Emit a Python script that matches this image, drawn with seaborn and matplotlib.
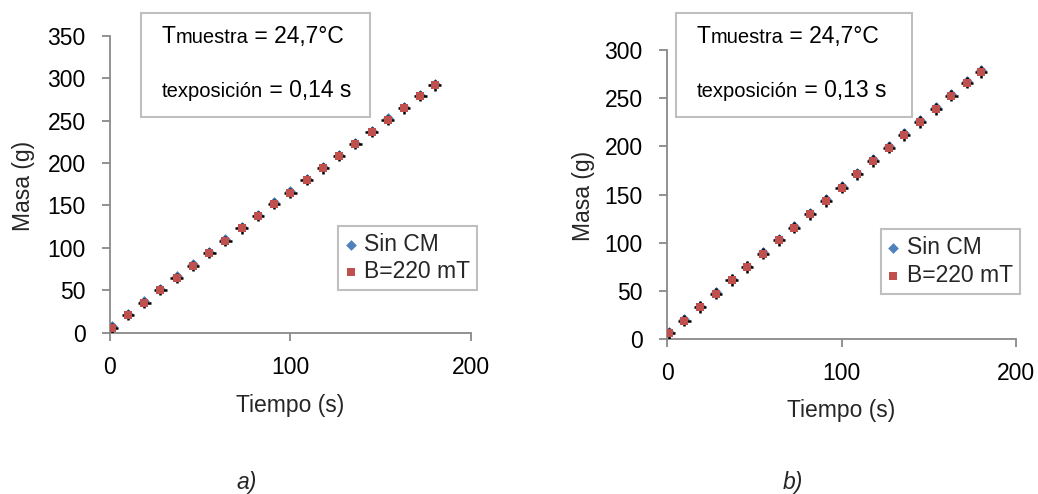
import matplotlib
matplotlib.use('Agg')
import numpy as np
import pandas as pd
import matplotlib.pyplot as plt
import seaborn as sns
from matplotlib.patches import Rectangle
from matplotlib.offsetbox import TextArea, HPacker, VPacker, AnchoredOffsetbox

# datos
tiempo = [1, 10, 19, 28, 37, 46, 55, 64, 73, 82, 91, 100, 109, 118, 127, 136, 145, 154, 163, 172, 180]

# a) t exposicion = 0,14 s
masa_a_sin = [7.5, 22.5, 37.0, 51.5, 66.5, 80.5, 95.0, 110.0, 124.5, 139.0, 153.5,
              167.0, 181.5, 195.5, 209.5, 224.0, 238.0, 252.5, 266.0, 280.5, 293.0]
masa_a_cm = [5.9, 20.8, 35.3, 49.9, 64.8, 79.0, 93.5, 108.4, 122.9, 137.1, 151.6,
             165.0, 179.9, 193.6, 207.8, 222.3, 236.1, 250.6, 264.3, 278.5, 291.4]

# b) t exposicion = 0,13 s
masa_b_sin = [7.5, 21.0, 35.0, 49.0, 63.0, 76.5, 90.5, 104.0, 117.5, 131.0, 145.0,
              159.0, 172.5, 186.5, 200.5, 213.5, 227.0, 240.5, 254.0, 267.5, 279.0]
masa_b_cm = [6.2, 19.4, 33.5, 47.3, 61.2, 75.0, 88.8, 102.6, 115.8, 129.6, 143.4,
             157.2, 171.0, 184.8, 198.8, 211.9, 225.4, 238.9, 252.7, 266.2, 277.2]

err_t = 3.5
err_m = 6.0

AZUL = '#4F81BD'
ROJO = '#C0504D'
GRIS = '#898989'
FS = 16.5
FS_SUB = 14.5

sns.set_theme(style='white')
plt.rcParams['font.family'] = ['Liberation Sans', 'DejaVu Sans']
plt.rcParams['font.size'] = FS

W, H = 1038, 494
fig = plt.figure(figsize=(W / 100, H / 100), dpi=100)
ax_a = fig.add_axes([110 / W, 1 - 332.7 / H, 360.7 / W, 297 / H])
ax_b = fig.add_axes([667 / W, 1 - 339.3 / H, 349 / W, 289.3 / H])


def panel(ax, masa_sin, masa_cm, ymax, texp, caja_x, texto_x, leyenda_xy):
    df = pd.DataFrame({'t': tiempo, 'sin': masa_sin, 'cm': masa_cm})
    sns.scatterplot(data=df, x='t', y='sin', marker='D', color=AZUL, s=30,
                    linewidth=0, label='Sin CM', ax=ax, zorder=3)
    ax.errorbar(df['t'], df['cm'], xerr=err_t, yerr=err_m, fmt='none',
                ecolor='black', elinewidth=1.8, capsize=0, zorder=4)
    sns.scatterplot(data=df, x='t', y='cm', marker='s', color=ROJO, s=40,
                    linewidth=0, label='B=220 mT', ax=ax, zorder=5)

    ax.set_xlim(0, 200)
    ax.set_ylim(0, ymax)
    ax.set_xticks([0, 100, 200])
    ax.set_yticks(np.arange(0, ymax + 1, 50))
    sns.despine(ax=ax)
    for s in ['left', 'bottom']:
        ax.spines[s].set_color(GRIS)
        ax.spines[s].set_linewidth(1.3)
    ax.tick_params(bottom=True, left=True, direction='out', length=5.5,
                   width=1.3, color=GRIS, labelsize=FS, labelcolor='black')
    ax.tick_params(axis='x', pad=11)
    ax.tick_params(axis='y', pad=12)

    ax.set_xlabel('Tiempo (s)', fontsize=FS, va='center')
    ax.set_ylabel('Masa (g)', fontsize=FS, va='center', ha='center')
    ax.xaxis.set_label_coords(0.5, -0.245)
    ax.yaxis.set_label_coords(-0.24, 0.495)

    ax.legend(loc='upper left', bbox_to_anchor=leyenda_xy, bbox_transform=fig.transFigure,
              frameon=True, fancybox=False, edgecolor='#BFBFBF', framealpha=1,
              fontsize=FS, handlelength=0.5, handletextpad=0.35, labelspacing=0.2,
              borderpad=0.3, borderaxespad=0)
    ax.get_legend().get_frame().set_linewidth(1.5)

    # recuadro con las condiciones
    fig.add_artist(Rectangle((caja_x[0] / W, 1 - 116.7 / H), (caja_x[1] - caja_x[0]) / W,
                             104 / H, transform=fig.transFigure, facecolor='white',
                             edgecolor='#BFBFBF', linewidth=1.5, zorder=2))
    big = dict(fontsize=FS, color='black')
    small = dict(fontsize=FS_SUB, color='black')
    fila1 = HPacker(children=[TextArea('T', textprops=big), TextArea('muestra', textprops=small),
                              TextArea(' = 24,7°C', textprops=big)], align='baseline', pad=0, sep=0)
    fila2 = HPacker(children=[TextArea('texposición', textprops=small),
                              TextArea(' = ' + texp, textprops=big)], align='baseline', pad=0, sep=0)
    bloque = VPacker(children=[fila1, fila2], align='left', pad=0, sep=22)
    caja = AnchoredOffsetbox(loc='upper left', child=bloque, pad=0, borderpad=0, frameon=False,
                             bbox_to_anchor=(texto_x / W, 1 - 25 / H),
                             bbox_transform=fig.transFigure)
    caja.set_zorder(3)
    fig.add_artist(caja)


panel(ax_a, masa_a_sin, masa_a_cm, 350, '0,14 s', (140.7, 370), 161.7, (338 / W, 1 - 225.7 / H))
panel(ax_b, masa_b_sin, masa_b_cm, 300, '0,13 s', (676, 911.7), 696.7, (880.7 / W, 1 - 229.3 / H))

fig.text(247 / W, 1 - 482 / H, 'a)', fontsize=FS, style='italic', ha='center', va='center')
fig.text(793 / W, 1 - 482 / H, 'b)', fontsize=FS, style='italic', ha='center', va='center')

fig.savefig('out.png', dpi=100)
